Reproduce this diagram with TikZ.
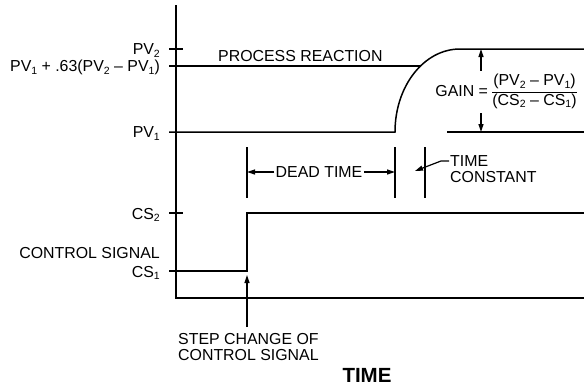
\documentclass[tikz,border=0pt]{standalone}
\usepackage{fontspec}
\setmainfont{Liberation Sans}
\usetikzlibrary{arrows.meta}
\setlength{\arrayrulewidth}{1pt}
\newcommand{\lowidx}[1]{\raisebox{-2.5pt}{\fontsize{10.5}{10.5}\selectfont #1}}

\begin{document}
\begin{tikzpicture}[x=1pt, y=-1pt,
  curve/.style={line width=1.5pt},
  arr/.style={-{Triangle[length=8pt,width=5pt]}, line width=1.2pt},
  lbl/.style={font=\fontsize{15.9}{16}\selectfont, inner sep=0pt}
]
  \useasboundingbox (0,0) rectangle (584,389);

  % axes and ticks
  \draw[curve] (176,5) -- (176,298) -- (584,298);
  \draw[curve] (169,49) -- (183,49);
  \draw[curve] (169,213) -- (183,213);

  % process reaction
  \draw[curve] (169,66) -- (420,66);
  \draw[curve] (169,132) -- (395,132) .. controls (395,86) and (424,49) .. (460,49) -- (584,49);
  \draw[curve] (447,132) -- (584,132);

  % control signal
  \draw[curve] (169,271) -- (247,271) -- (247,213) -- (584,213);

  % time markers
  \foreach \x in {247,395,425}
    \draw[curve] (\x,147) -- (\x,198);

  % left labels
  \node[lbl, anchor=base east] (pv2) at (160,54.5) {PV\lowidx{2}};
  \node[lbl, anchor=base east] (pv63) at (160,71.5) {PV\lowidx{1} + .63(PV\lowidx{2} – PV\lowidx{1})};
  \node[lbl, anchor=base east] (pv1) at (160,137.5) {PV\lowidx{1}};
  \node[lbl, anchor=base east] (cs2) at (160,219) {CS\lowidx{2}};
  \node[lbl, anchor=base east] (ctrl) at (160,258) {CONTROL SIGNAL};
  \node[lbl, anchor=base east] (cs1) at (160,277) {CS\lowidx{1}};

  \node[lbl, anchor=base west] (proc) at (218,61.5) {PROCESS REACTION};

  % gain
  \node[lbl, inner sep=2pt] (gain) at (506,92)
    {GAIN = \renewcommand{\arraystretch}{1.15}\begin{tabular}{@{}c@{}}(PV\lowidx{2} – PV\lowidx{1})\\\hline(CS\lowidx{2} – CS\lowidx{1})\end{tabular}};
  \coordinate (gTop) at (481,49);
  \coordinate (gBot) at (481,132);
  \draw[arr] (gain.north -| gTop) -- (gTop);
  \draw[arr] (gain.south -| gBot) -- (gBot);

  % dead time
  \node[lbl, inner sep=1.5pt] (dead) at (319,172) {DEAD TIME};
  \coordinate (dtL) at (247,172);
  \coordinate (dtR) at (395,172);
  \draw[arr] (dead) -- (dtL);
  \draw[arr] (dead) -- (dtR);

  % time constant
  \node[lbl, anchor=north west, align=left] (tc) at (450,155.5) {TIME\\CONSTANT};
  \coordinate (tcA) at (449,161);
  \coordinate (tcTip) at (415,171);
  \draw[arr] (tcA) -- ++(-8,0) -- (tcTip);

  % step change
  \node[lbl, anchor=north west, align=left] (step) at (178,333) {STEP CHANGE OF\\CONTROL SIGNAL};
  \coordinate (stepStart) at (247,327);
  \coordinate (stepTip) at (247,275);
  \draw[arr] (stepStart) -- (stepTip);

  \node[font=\bfseries\fontsize{20.5}{22}\selectfont, inner sep=0pt] (timeax) at (367,375.5) {TIME};
\end{tikzpicture}
\end{document}
